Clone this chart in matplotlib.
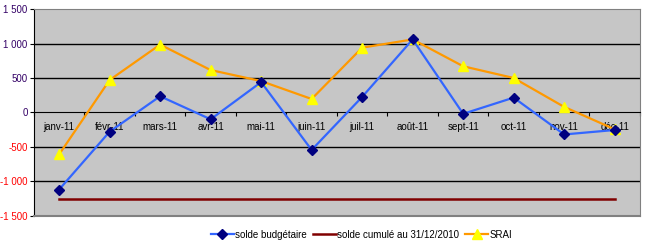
import numpy as np
import matplotlib
matplotlib.use("Agg")
import matplotlib.pyplot as plt

plt.rcParams['font.family'] = ['Liberation Sans', 'DejaVu Sans']

# Données
mois = ['janv-11', 'févr-11', 'mars-11', 'avr-11', 'mai-11', 'juin-11',
        'juil-11', 'août-11', 'sept-11', 'oct-11', 'nov-11', 'déc-11']
solde_budgetaire = [-1120, -280, 235, -100, 440, -545,
                    225, 1060, -20, 215, -320, -255]
solde_cumule = [-1250] * 12
srai = [-610, 470, 985, 615, 455, 195,
        940, 1060, 670, 500, 80, -245]
yticks = [-1500, -1000, -500, 0, 500, 1000, 1500]

x = np.arange(len(mois))

fig = plt.figure(figsize=(6.51, 2.46), dpi=100)
ax = fig.add_axes([0.052, 0.123, 0.931, 0.840])
ax.set_facecolor('#c6c6c6')

# grille horizontale
for v in [-1000, -500, 500, 1000]:
    ax.axhline(v, color='black', lw=1, zorder=1)

ax.plot(x, solde_budgetaire, color='#3366ff', lw=1.6, marker='D', ms=5,
        mfc='#000080', mec='#000080', zorder=4, label='solde budgétaire')
ax.plot(x, solde_cumule, color='#800000', lw=1.8, zorder=3,
        label='solde cumulé au 31/12/2010')
ax.plot(x, srai, color='#ff9900', lw=1.6, marker='^', ms=7,
        mfc='#ffff00', mec='#ffff00', zorder=3, label='SRAI')

ax.set_xlim(-0.5, 11.5)
ax.set_ylim(-1500, 1500)

# axe des x sur le zéro
ax.spines['bottom'].set_position(('data', 0))
ax.spines['bottom'].set_color('black')
ax.spines['left'].set_color('black')
ax.spines['top'].set_color('#808080')
ax.spines['right'].set_color('#808080')
ax.axhline(-1500, color='#808080', lw=1.5, clip_on=False, zorder=5)

ax.set_xticks(np.arange(-0.5, 12, 1))
ax.set_xticklabels([])
ax.tick_params(axis='x', which='major', direction='out', length=3, color='black')
ax.set_xticks(x, minor=True)
ax.set_xticklabels(mois, minor=True, fontsize=7)
ax.tick_params(axis='x', which='minor', length=0, pad=7)

ax.set_yticks(yticks)
ax.set_yticklabels([f'{v:,}'.replace(',', ' ') for v in yticks], fontsize=7)
for lab, v in zip(ax.get_yticklabels(), yticks):
    lab.set_color('#ff0000' if v < 0 else '#330066')
ax.tick_params(axis='y', direction='out', length=3, pad=1.5)

fig.legend(loc='lower center', bbox_to_anchor=(0.555, -0.01), ncol=3,
           frameon=False, fontsize=7, handlelength=2.4, handletextpad=0.1,
           columnspacing=0.6)

fig.savefig('out.png', dpi=100)
